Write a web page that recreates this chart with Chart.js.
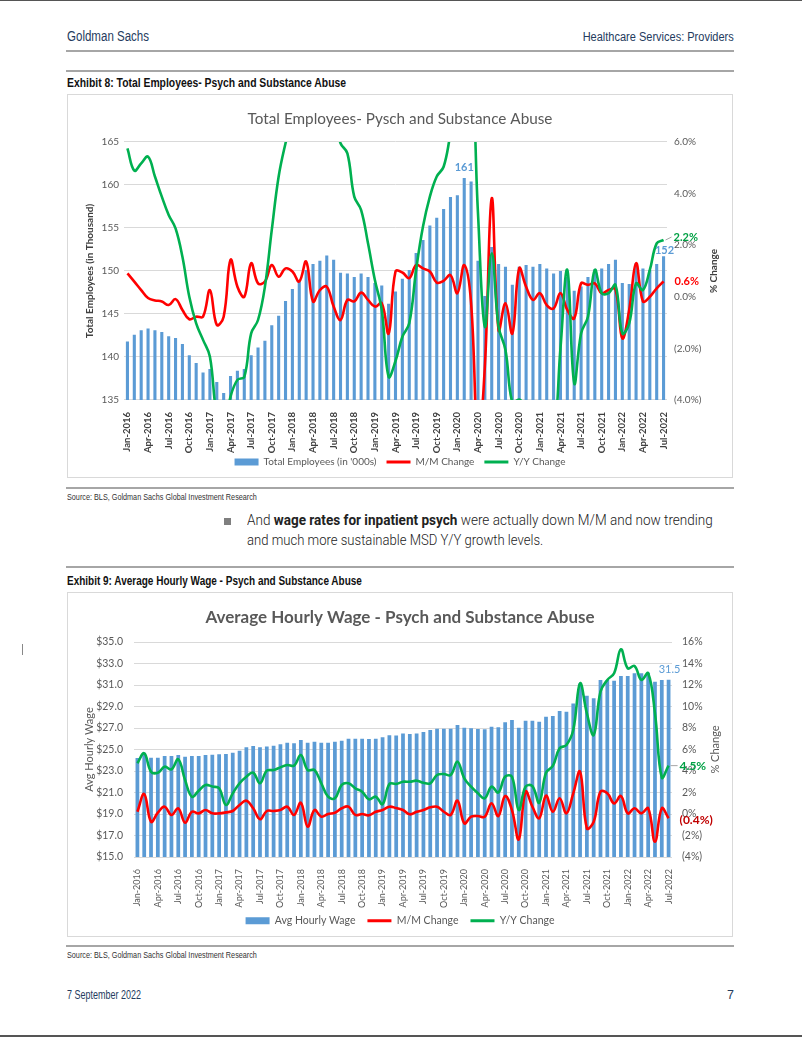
<!DOCTYPE html>
<html>
<head>
<meta charset="utf-8">
<script src="https://cdn.jsdelivr.net/npm/chart.js@4.4.0/dist/chart.umd.min.js"></script>
<style>
body { margin: 0; background: #fff; }
#page { position: relative; width: 802px; height: 1037px; overflow: hidden; background: #fff;
        font-family: "Liberation Sans", Arial, sans-serif; }
.abs { position: absolute; white-space: nowrap; }
.fit { transform-origin: left center; }
.fitr { transform-origin: right center; }
.rule { position: absolute; left: 66px; width: 668px; height: 2px; background: #a6a6a6; }
.navy { color: #243b5e; }
.exhibit { font-weight: bold; font-size: 12.5px; color: #111; left: 67px; }
.source { font-size: 9px; color: #333; left: 67px; }
.box { position: absolute; left: 67px; width: 664px; border: 1px solid #d9d9d9; }
.box canvas { display: block; }
.para { left: 247px; font-family: Roboto, sans-serif; font-weight: 300; font-size: 14.5px; color: #222; }
.para b { font-weight: 700; }
</style>
</head>
<body>
<div id="page">
  <div class="abs" style="left:0;top:0;width:802px;height:1px;background:#555"></div>
  <div class="abs navy fit" data-w="82" style="left:67px;top:27px;font-size:15.5px;">Goldman Sachs</div>
  <div class="abs navy fitr" data-w="151" style="right:68px;top:30px;font-size:12px;">Healthcare Services: Providers</div>
  <div class="rule" style="top:50px"></div>
  <div class="rule" style="top:70px"></div>
  <div class="abs exhibit fit" data-w="279" style="top:76px">Exhibit 8: Total Employees- Psych and Substance Abuse</div>
  <div class="box" style="top:94px;height:382px"><canvas id="emp-chart" width="664" height="382"></canvas></div>
  <div class="rule" style="top:487px"></div>
  <div class="abs source fit" data-w="190" style="top:492px">Source: BLS, Goldman Sachs Global Investment Research</div>
  <div class="abs" style="left:224px;top:518px;width:7px;height:7px;background:#7f7f7f"></div>
  <div class="abs para fit" data-w="466" style="top:512px">And <b>wage rates for inpatient psych</b> were actually down M/M and now trending</div>
  <div class="abs para fit" data-w="296" style="top:532px">and much more sustainable MSD Y/Y growth levels.</div>
  <div class="rule" style="top:566px"></div>
  <div class="abs exhibit fit" data-w="295" style="top:574px">Exhibit 9: Average Hourly Wage - Psych and Substance Abuse</div>
  <div class="abs" style="left:22px;top:644px;width:1px;height:11px;background:#888"></div>
  <div class="box" style="top:592px;height:343px"><canvas id="wage-chart" width="664" height="343"></canvas></div>
  <div class="rule" style="top:945px"></div>
  <div class="abs source fit" data-w="190" style="top:950px">Source: BLS, Goldman Sachs Global Investment Research</div>
  <div class="abs navy fit" data-w="74" style="left:67px;top:988px;font-size:12.5px;">7 September 2022</div>
  <div class="abs navy" style="right:68px;top:988px;font-size:12.5px;">7</div>
  <div class="abs" style="left:0;top:1035px;width:802px;height:2px;background:#555"></div>
</div>

<script>
// squeeze the report text to the widths of the condensed house font
document.querySelectorAll("[data-w]").forEach(function (el) {
  const w = el.getBoundingClientRect().width;
  el.style.transform = "scaleX(" + (Number(el.dataset.w) / w).toFixed(3) + ")";
});

// months Jan-2016 .. Jul-2022
const months = [
  "Jan-2016","Feb-2016","Mar-2016","Apr-2016","May-2016","Jun-2016","Jul-2016","Aug-2016","Sep-2016","Oct-2016","Nov-2016","Dec-2016",
  "Jan-2017","Feb-2017","Mar-2017","Apr-2017","May-2017","Jun-2017","Jul-2017","Aug-2017","Sep-2017","Oct-2017","Nov-2017","Dec-2017",
  "Jan-2018","Feb-2018","Mar-2018","Apr-2018","May-2018","Jun-2018","Jul-2018","Aug-2018","Sep-2018","Oct-2018","Nov-2018","Dec-2018",
  "Jan-2019","Feb-2019","Mar-2019","Apr-2019","May-2019","Jun-2019","Jul-2019","Aug-2019","Sep-2019","Oct-2019","Nov-2019","Dec-2019",
  "Jan-2020","Feb-2020","Mar-2020","Apr-2020","May-2020","Jun-2020","Jul-2020","Aug-2020","Sep-2020","Oct-2020","Nov-2020","Dec-2020",
  "Jan-2021","Feb-2021","Mar-2021","Apr-2021","May-2021","Jun-2021","Jul-2021","Aug-2021","Sep-2021","Oct-2021","Nov-2021","Dec-2021",
  "Jan-2022","Feb-2022","Mar-2022","Apr-2022","May-2022","Jun-2022","Jul-2022"
];

// Exhibit 8 - total employees ('000s) and % changes
const employees = [
  141.8,142.6,143.1,143.3,143.1,142.9,142.4,142.2,141.5,140.2,139.3,138.2,
  138.6,137.1,135.8,137.8,138.4,138.6,140.2,141.1,141.9,143.7,144.8,146.5,
  147.9,148.8,150.1,150.8,151.2,151.8,151.3,149.8,149.7,149.3,149.7,149.3,
  148.6,148.3,146.2,147.6,149.1,150.1,152.1,153.6,155.3,156.2,157.2,158.6,
  158.8,160.8,160.4,151.2,147.1,152.8,150.8,150.5,148.4,150.5,150.7,150.5,
  150.8,150.3,149.7,150.0,149.3,147.7,148.2,149.3,150.2,150.3,150.8,151.3,
  148.6,148.5,150.9,150.3,150.1,150.8,151.7
];
const empMoM = [
  0.91,0.59,0.26,-0.05,-0.14,-0.18,-0.32,-0.09,-0.51,-0.87,-0.77,-0.77,
  0.26,-1.09,-0.77,1.43,0.39,0.0,1.3,0.52,0.59,1.23,0.78,1.1,
  0.98,0.59,1.37,-0.18,0.26,0.39,-0.38,-0.9,-0.12,-0.18,0.16,-0.12,
  -0.38,-0.25,-1.42,0.98,0.94,0.72,1.23,1.1,0.98,0.55,0.62,0.84,
  0.14,1.23,-0.25,-5.7,-2.7,3.82,-1.29,-0.25,-1.42,1.1,0.39,-0.12,
  0.14,-0.32,-0.45,0.14,-0.51,-0.84,0.52,0.46,0.52,0.14,0.26,0.3,
  -1.61,-0.51,1.3,-0.18,0.0,0.33,0.6
];
const empYoY = [
  5.75,4.89,5.17,5.43,4.66,3.88,3.17,2.65,1.55,0.0,-1.03,-1.67,
  -2.32,-4.6,-5.2,-3.87,-3.22,-3.1,-1.42,-0.9,0.39,2.59,4.66,5.95,
  7.0,8.3,9.3,9.4,9.0,8.3,7.0,5.95,5.56,3.88,3.36,2.07,
  0.65,-0.51,-3.1,-2.49,-1.55,-1.03,1.04,2.72,3.88,4.66,5.04,6.3,
  7.5,8.5,9.0,3.24,-1.16,1.69,-1.16,-2.06,-4.1,-3.98,-4.3,-5.0,
  -5.5,-5.5,-5.5,-2.0,1.04,-3.35,-1.42,-0.77,1.04,0.14,0.14,0.46,
  -1.42,-1.03,0.52,0.26,1.04,2.07,2.2
];

// Exhibit 9 - average hourly wage ($) and % changes
const wages = [
  24.2,24.7,24.24,24.24,24.4,24.4,24.49,24.33,24.4,24.4,24.49,24.52,
  24.55,24.58,24.7,24.89,25.2,25.33,25.2,25.27,25.36,25.48,25.63,25.57,
  25.88,25.63,25.73,25.63,25.63,25.73,25.82,26.0,26.0,26.0,25.97,26.0,
  26.13,26.32,26.3,26.5,26.45,26.5,26.63,26.81,26.93,26.93,26.93,27.28,
  27.03,26.97,26.9,26.88,27.12,27.06,27.53,27.74,27.03,27.68,27.68,27.59,
  28.05,28.12,28.58,28.52,29.29,31.15,30.0,29.76,31.47,31.47,31.4,31.84,
  31.84,32.09,32.09,32.15,31.31,31.47,31.5
];
const wageMoM = [
  0.21,1.86,-0.72,0.12,0.68,-0.09,0.53,-0.81,0.21,0.06,0.37,0.06,
  0.06,0.15,0.28,0.84,1.24,0.53,-0.49,0.28,0.28,0.37,0.68,-0.09,
  1.05,-1.18,0.37,-0.25,0.0,0.12,0.53,0.68,-0.09,0.0,-0.12,0.21,
  0.37,0.68,0.55,0.37,-0.03,0.21,0.37,0.62,0.68,0.21,-0.09,1.24,
  -0.87,-0.25,-0.19,-0.25,0.99,-0.19,1.67,0.37,-2.36,2.08,0.68,-0.4,
  1.7,0.21,1.46,0.06,1.92,3.94,-1.33,-0.72,2.08,1.92,0.99,1.67,
  0.06,0.53,0.06,0.53,-2.58,0.53,-0.4
];
const wageYoY = [
  4.72,5.65,3.94,3.84,4.4,4.15,5.09,3.16,1.61,2.17,2.7,2.55,
  2.39,0.84,1.92,2.86,3.47,3.84,2.86,4.03,4.09,4.34,4.56,4.5,
  5.49,4.09,4.09,2.86,1.61,1.46,2.7,2.86,2.39,2.08,1.36,1.61,
  0.92,2.79,2.8,3.0,3.0,3.1,2.9,2.86,3.63,3.72,3.63,4.87,
  3.32,2.54,1.92,1.46,2.54,2.0,3.47,3.47,0.37,2.54,2.6,1.05,
  3.84,4.47,6.11,6.42,7.81,12.16,9.37,7.35,11.38,12.47,13.09,15.32,
  13.55,13.77,12.47,13.09,9.37,3.4,4.5
];

const BLUE = "#5b9bd5", RED = "#ff0000", GREEN = "#00b050", GREY = "#595959";
const FONT = "Lato, 'Open Sans', sans-serif";

Chart.defaults.font.family = FONT;
Chart.defaults.color = GREY;
Chart.defaults.animation = false;

// draws the secondary axis title reading bottom-to-top, like excel does
const rightTitle = {
  id: "rightTitle",
  afterDraw(chart, args, opts) {
    const ctx = chart.ctx, area = chart.chartArea;
    ctx.save();
    ctx.translate(opts.x, (area.top + area.bottom) / 2);
    ctx.rotate(-Math.PI / 2);
    ctx.font = opts.font;
    ctx.fillStyle = opts.color;
    ctx.textAlign = "center";
    ctx.textBaseline = "middle";
    ctx.fillText(opts.text, 0, 0);
    ctx.restore();
  }
};

// value labels at the end of the series
const endLabels = {
  id: "endLabels",
  afterDatasetsDraw(chart, args, opts) {
    const ctx = chart.ctx;
    (opts.items || []).forEach(function (it) {
      const el = chart.getDatasetMeta(it.ds).data[it.index];
      const x = el.x + it.dx, y = el.y + it.dy;
      ctx.save();
      if (it.leader) {
        ctx.strokeStyle = "#a6a6a6";
        ctx.lineWidth = 1;
        ctx.beginPath();
        ctx.moveTo(el.x + 2, el.y);
        ctx.lineTo(x - 2, y);
        ctx.stroke();
      }
      ctx.font = it.font;
      ctx.fillStyle = it.color;
      ctx.textAlign = it.align || "center";
      ctx.textBaseline = "middle";
      ctx.fillText(it.text, x, y);
      ctx.restore();
    });
  }
};

function legendItems(chart) {
  const items = Chart.defaults.plugins.legend.labels.generateLabels(chart);
  items.forEach(function (item) {
    const ds = chart.data.datasets[item.datasetIndex];
    if (ds.type === "line") {
      item.pointStyle = "line";
      item.lineWidth = 3;
      item.strokeStyle = ds.borderColor;
    } else {
      item.pointStyle = "rect";
      item.lineWidth = 0;
      item.fillStyle = ds.backgroundColor;
    }
  });
  return items;
}

function pctLabel(digits) {
  return function (v) {
    return v < 0 ? "(" + Math.abs(v).toFixed(digits) + "%)" : v.toFixed(digits) + "%";
  };
}

// fixed x axis height; the month labels are allowed to run past it
function xAxisHeight(h) {
  return function (s) {
    s.height = h;
    s._computeLabelArea = function () {};
  };
}

function createEmployeesChart() {
  const context = document.querySelector("#emp-chart").getContext("2d");
  return new Chart(context, {
    type: "bar",
    data: {
      labels: months,
      datasets: [
        { label: "Total Employees (in '000s)", data: employees, backgroundColor: BLUE,
          barPercentage: 0.45, categoryPercentage: 1, yAxisID: "y", order: 3 },
        { type: "line", label: "M/M Change", data: empMoM, borderColor: RED, backgroundColor: RED,
          borderWidth: 2.6, pointRadius: 0, tension: 0.4, yAxisID: "y2", order: 2 },
        { type: "line", label: "Y/Y Change", data: empYoY, borderColor: GREEN, backgroundColor: GREEN,
          borderWidth: 2.6, pointRadius: 0, tension: 0.4, yAxisID: "y2", order: 1 }
      ]
    },
    options: {
      responsive: false,
      layout: { padding: 0 },
      scales: {
        x: {
          grid: { display: false },
          border: { display: false },
          ticks: {
            autoSkip: false, maxRotation: 90, minRotation: 90, padding: 4,
            color: "#404040", font: { size: 9.5, weight: "bold" },
            callback: function (v, i) { return i % 3 === 0 ? months[i] : ""; }
          },
          afterFit: xAxisHeight(47)
        },
        y: {
          min: 135, max: 165,
          ticks: { stepSize: 5, padding: 5, font: { size: 10 } },
          grid: { color: "#d9d9d9", drawTicks: false },
          border: { display: false },
          title: { display: true, text: "Total Employees (in Thousand)", color: "#404040",
                   font: { size: 10, weight: "bold" }, padding: { top: 16, bottom: 0 } },
          afterFit: function (s) { s.width = 56; }
        },
        y2: {
          position: "right", min: -4, max: 6,
          ticks: { stepSize: 2, padding: 7, font: { size: 10 }, callback: pctLabel(1) },
          grid: { display: false, drawTicks: false },
          border: { display: false },
          afterFit: function (s) { s.width = 65; }
        }
      },
      plugins: {
        title: { display: true, text: "Total Employees- Pysch and Substance Abuse", color: GREY,
                 font: { size: 15.3, weight: "normal" }, padding: { top: 15, bottom: 13.6 } },
        legend: {
          position: "bottom",
          labels: { usePointStyle: true, pointStyleWidth: 24, boxHeight: 7, padding: 10,
                    color: GREY, font: { size: 10 }, generateLabels: legendItems,
                    sort: function (a, b) { return a.datasetIndex - b.datasetIndex; } }
        },
        tooltip: { enabled: false },
        rightTitle: { x: 646, text: "% Change", color: "#404040", font: "bold 10px " + FONT },
        endLabels: { items: [
          { ds: 0, index: 49, text: "161", color: BLUE, font: "bold 11px " + FONT, dx: 0, dy: -11 },
          { ds: 0, index: 78, text: "152", color: BLUE, font: "bold 11px " + FONT, dx: 1, dy: -6 },
          { ds: 2, index: 78, text: "2.2%", color: "#00a044", font: "bold 11px " + FONT, dx: 10, dy: -3, align: "left", leader: true },
          { ds: 1, index: 78, text: "0.6%", color: RED, font: "bold 11px " + FONT, dx: 11, dy: 0, align: "left" }
        ] }
      }
    },
    plugins: [rightTitle, endLabels]
  });
}

function createWageChart() {
  const context = document.querySelector("#wage-chart").getContext("2d");
  return new Chart(context, {
    type: "bar",
    data: {
      labels: months,
      datasets: [
        { label: "Avg Hourly Wage", data: wages, backgroundColor: BLUE,
          barPercentage: 0.55, categoryPercentage: 1, yAxisID: "y", order: 3 },
        { type: "line", label: "M/M Change", data: wageMoM, borderColor: RED, backgroundColor: RED,
          borderWidth: 2.6, pointRadius: 0, tension: 0.4, yAxisID: "y2", order: 2 },
        { type: "line", label: "Y/Y Change", data: wageYoY, borderColor: GREEN, backgroundColor: GREEN,
          borderWidth: 2.6, pointRadius: 0, tension: 0.4, yAxisID: "y2", order: 1 }
      ]
    },
    options: {
      responsive: false,
      layout: { padding: 0 },
      scales: {
        x: {
          grid: { display: false },
          border: { display: false },
          ticks: {
            autoSkip: false, maxRotation: 90, minRotation: 90, padding: 4,
            color: GREY, font: { size: 9 },
            callback: function (v, i) { return i % 3 === 0 ? months[i] : ""; }
          },
          afterFit: xAxisHeight(46.5)
        },
        y: {
          min: 15, max: 35,
          ticks: { stepSize: 2, padding: 11, font: { size: 10.5 },
                   callback: function (v) { return "$" + v.toFixed(1); } },
          grid: { color: "#d9d9d9", drawTicks: false },
          border: { display: false },
          title: { display: true, text: "Avg Hourly Wage", color: GREY,
                   font: { size: 11 }, padding: { top: 15, bottom: 0 } },
          afterFit: function (s) { s.width = 66; }
        },
        y2: {
          position: "right", min: -4, max: 16,
          ticks: { stepSize: 2, padding: 10, font: { size: 10.5 }, callback: pctLabel(0) },
          grid: { display: false, drawTicks: false },
          border: { display: false },
          afterFit: function (s) { s.width = 60; }
        }
      },
      plugins: {
        title: { display: true, text: "Average Hourly Wage - Psych and Substance Abuse", color: GREY,
                 font: { size: 17, weight: "bold" }, padding: { top: 14, bottom: 14.6 } },
        legend: {
          position: "bottom",
          labels: { usePointStyle: true, pointStyleWidth: 24, boxHeight: 7, padding: 12,
                    color: GREY, font: { size: 10.5 }, generateLabels: legendItems,
                    sort: function (a, b) { return a.datasetIndex - b.datasetIndex; } }
        },
        tooltip: { enabled: false },
        rightTitle: { x: 647, text: "% Change", color: GREY, font: "11px " + FONT },
        endLabels: { items: [
          { ds: 0, index: 78, text: "31.5", color: BLUE, font: "11px " + FONT, dx: 1, dy: -10 },
          { ds: 2, index: 78, text: "4.5%", color: "#00a044", font: "bold 12px " + FONT, dx: 11, dy: 0, align: "left", leader: true },
          { ds: 1, index: 78, text: "(0.4%)", color: "#c00000", font: "bold 12px " + FONT, dx: 11, dy: 2, align: "left" }
        ] }
      }
    },
    plugins: [rightTitle, endLabels]
  });
}

createEmployeesChart();
createWageChart();
</script>
</body>
</html>
